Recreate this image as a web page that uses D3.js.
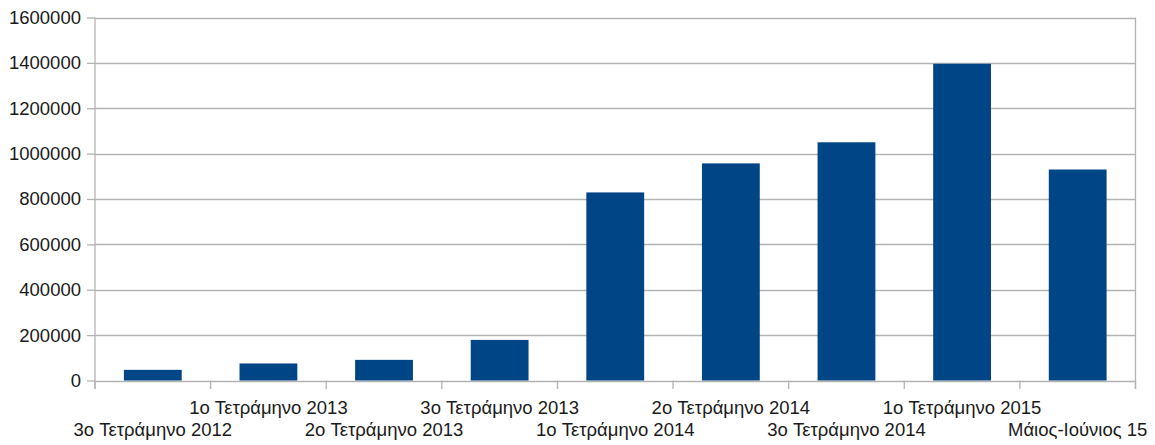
<!DOCTYPE html>
<html>
<head>
<meta charset="utf-8">
<script src="https://cdn.jsdelivr.net/npm/d3@7"></script>
<style>
  body { margin: 0; background: #fff; }
  svg { display: block; }
  .tick text { font-family: "Liberation Sans", Arial, sans-serif; font-size: 18.5px; fill: #1a1a1a; }
</style>
</head>
<body>
<svg id="chart" width="1155" height="445"></svg>
<script>
var periods = ["3o Τετράμηνο 2012", "1o Τετράμηνο 2013", "2o Τετράμηνο 2013", "3o Τετράμηνο 2013",
               "1o Τετράμηνο 2014", "2o Τετράμηνο 2014", "3o Τετράμηνο 2014", "1o Τετράμηνο 2015",
               "Μάιος-Ιούνιος 15"];
var values = [47000, 75000, 91000, 179000, 829000, 957000, 1050000, 1396000, 930000];
var yTicks = [0, 200000, 400000, 600000, 800000, 1000000, 1200000, 1400000, 1600000];

var svg = d3.select("#chart"),
    plotLeft = 95, plotRight = 1135.5, plotTop = 17.5, plotBottom = 380.5,
    gridColor = "#b3b3b3";

var xScale = d3.scaleBand().domain(periods).range([plotLeft, plotRight]).paddingInner(0.5).paddingOuter(0.25),
    yScale = d3.scaleLinear().domain([0, 1600000]).range([plotBottom, plotTop]);

// gridlines
svg.append("g")
  .selectAll("line")
  .data(yTicks)
  .enter()
  .append("line")
    .attr("x1", plotLeft)
    .attr("x2", plotRight)
    .attr("y1", d => Math.round(yScale(d)) + 0.5)
    .attr("y2", d => Math.round(yScale(d)) + 0.5)
    .style("stroke", gridColor)
    .style("stroke-width", 1.3);

// bars
svg.append("g")
  .selectAll("rect")
  .data(values)
  .enter()
  .append("rect")
    .attr("x", (d, i) => xScale(periods[i]))
    .attr("width", xScale.bandwidth())
    .attr("y", d => yScale(d))
    .attr("height", d => yScale(0) - yScale(d))
    .style("fill", "#004586");

// y axis
var yAxis = d3.axisLeft(yScale).tickValues(yTicks).tickSize(8).tickPadding(6).tickFormat(d3.format("d"));
var gy = svg.append("g")
  .attr("transform", "translate(" + plotLeft + ",0)")
  .call(yAxis);
gy.select(".domain").remove();
gy.selectAll(".tick line").style("stroke", gridColor).style("stroke-width", 1.3);
svg.append("line")
  .attr("x1", plotLeft).attr("x2", plotLeft)
  .attr("y1", plotTop).attr("y2", plotBottom + 8.5)
  .style("stroke", gridColor).style("stroke-width", 1.3);
svg.append("line")
  .attr("x1", plotRight).attr("x2", plotRight)
  .attr("y1", plotTop).attr("y2", plotBottom + 8.5)
  .style("stroke", gridColor).style("stroke-width", 1.3);

// x axis: boundary ticks + staggered labels
var bounds = d3.range(periods.length + 1).map(i => plotLeft + i * (plotRight - plotLeft) / periods.length);
svg.append("g")
  .selectAll("line")
  .data(bounds)
  .enter()
  .append("line")
    .attr("x1", d => d).attr("x2", d => d)
    .attr("y1", plotBottom).attr("y2", plotBottom + 8.5)
    .style("stroke", gridColor).style("stroke-width", 1.3);

var xAxis = d3.axisBottom(xScale).tickSize(0).tickPadding(0);
var gx = svg.append("g")
  .attr("transform", "translate(0," + plotBottom + ")")
  .call(xAxis);
gx.select(".domain").remove();
gx.selectAll(".tick text")
  .attr("dy", null)
  .attr("y", (d, i) => i % 2 === 1 ? 33 : 55.5);
</script>
</body>
</html>
